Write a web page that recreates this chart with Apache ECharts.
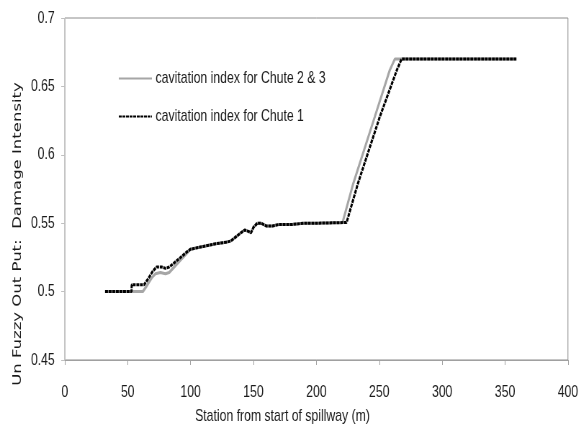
<!DOCTYPE html>
<html><head><meta charset="utf-8">
<script src="https://cdn.jsdelivr.net/npm/echarts@6/dist/echarts.min.js"></script>
<style>
html,body{margin:0;padding:0;background:#fff;overflow:hidden;width:580px;height:430px}
#c{width:806px;height:430px;transform:scaleX(0.72);transform-origin:0 0}
</style>
</head><body><div id="c"></div>
<script>
// Chute 1 (black dash-dot)
var stationChute1 = [32,53,53.2,63,66,70,73,77,80,83,87,92,97,100,105,110,120,128,132,136,140,143,146,148,150,153,156,160,165,170,180,190,200,224,233,250.5,264,267.7,280,300,330,359];
var damageChute1  = [0.5,0.5,0.505,0.505,0.509,0.515,0.518,0.518,0.517,0.518,0.521,0.525,0.529,0.531,0.532,0.533,0.535,0.536,0.537,0.540,0.543,0.545,0.544,0.543,0.547,0.550,0.550,0.548,0.548,0.549,0.549,0.550,0.550,0.5505,0.579,0.628,0.662,0.670,0.670,0.670,0.670,0.670];
// Chute 2 & 3 (grey solid)
var stationChute23 = [32,62,65,69,72,76,80,83,87,92,97,100,110,120,128,132,136,140,143,146,148,150,153,156,160,165,170,180,190,200,220.8,229.3,246.5,258.4,262.4,280,300,330,359];
var damageChute23  = [0.5,0.5,0.504,0.510,0.513,0.514,0.513,0.514,0.518,0.523,0.528,0.531,0.533,0.535,0.536,0.537,0.540,0.543,0.545,0.544,0.543,0.547,0.550,0.550,0.548,0.548,0.549,0.549,0.550,0.550,0.5505,0.579,0.628,0.662,0.670,0.670,0.670,0.670,0.670];
var seriesNames = ['cavitation index for Chute 2 & 3', 'cavitation index for Chute 1'];
var xTitle = 'Station from start of spillway (m)';
var yTitle = 'Un Fuzzy Out Put:  Damage Intensity';

function pairs(xs, ys){ return xs.map(function(x,i){ return [x, ys[i]]; }); }
var sans = '"Liberation Sans", Arial, sans-serif';
var chart = echarts.init(document.getElementById('c'), null, {renderer:'canvas', width: 806, height: 430});
chart.setOption({
  animation: false,
  backgroundColor: '#fff',
  grid: {left: 90, right: 17, top: 18, bottom: 70, show: true, borderColor: '#8c8c8c', borderWidth: 1},
  legend: {
    orient: 'vertical', left: 159, top: 65, itemWidth: 46, itemHeight: 14, itemGap: 21,
    textStyle: {fontFamily: sans, fontSize: 17, color: '#1a1a1a'},
    data: [{name: seriesNames[0], itemStyle: {opacity: 0}}, {name: seriesNames[1], itemStyle: {opacity: 0}}]
  },
  xAxis: {
    type: 'value', min: 0, max: 400, interval: 50,
    axisLine: {show: true, lineStyle: {color: '#a0a0a0'}},
    axisTick: {show: true, length: 5, inside: false, lineStyle: {color: '#a0a0a0'}},
    splitLine: {show: false},
    axisLabel: {fontFamily: sans, fontSize: 17, color: '#1a1a1a', margin: 24}
  },
  yAxis: {
    type: 'value', min: 0.45, max: 0.7, interval: 0.05,
    axisLine: {show: true, lineStyle: {color: '#c0c0c0'}},
    axisTick: {show: true, length: 5, inside: false, lineStyle: {color: '#c0c0c0'}},
    splitLine: {show: false},
    axisLabel: {fontFamily: sans, fontSize: 17, color: '#1a1a1a', margin: 14,
      formatter: function(v){ return String(+v.toFixed(2)); }}
  },
  graphic: [
    {type: 'text', left: 271, top: 408, style: {text: xTitle, fontFamily: sans, fontSize: 17, fill: '#1a1a1a'}},
    {type: 'text', x: 25, y: 234, rotation: Math.PI/2,
      style: {text: yTitle, fontFamily: '"DejaVu Sans", Verdana, sans-serif', fontSize: 16.5, fill: '#1a1a1a', align: 'center', verticalAlign: 'middle'}}
  ],
  series: [
    {name: seriesNames[0], type: 'line', data: pairs(stationChute23, damageChute23), showSymbol: false, symbol: 'none',
      lineStyle: {color: '#a6a6a6', width: 3}, itemStyle: {color: '#a6a6a6'}, z: 2},
    {name: seriesNames[1], type: 'line', data: pairs(stationChute1, damageChute1), showSymbol: false, symbol: 'none',
      lineStyle: {color: '#000', width: 3, type: [4, 1]}, itemStyle: {color: '#000'}, z: 3}
  ]
});
</script></body></html>
